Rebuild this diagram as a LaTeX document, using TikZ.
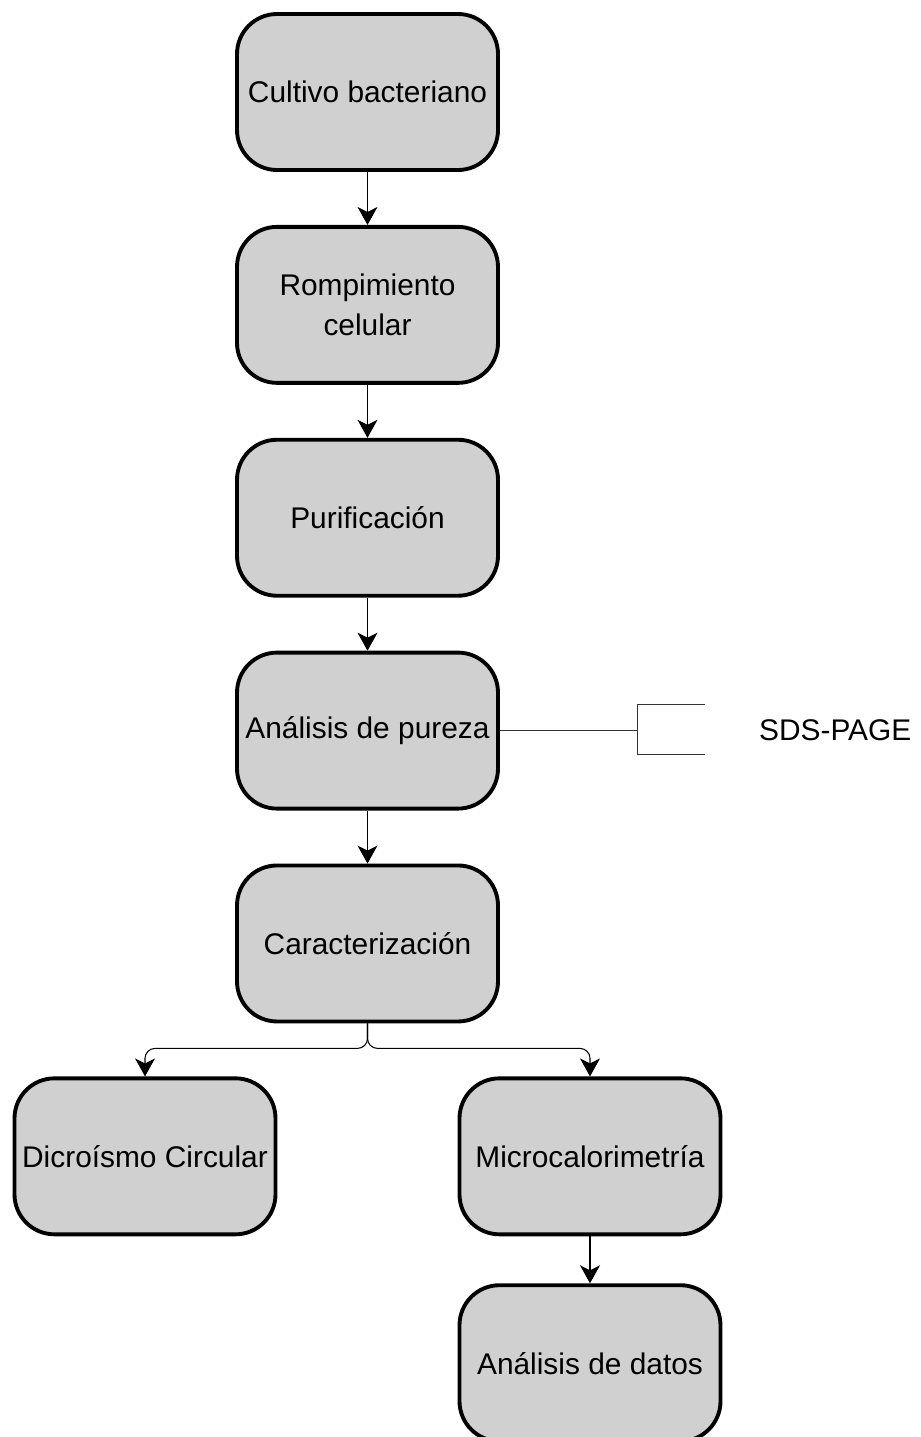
\documentclass[tikz,border=0pt]{standalone}
\usepackage{fontspec}
\setmainfont{Liberation Sans}
\usepackage{tikz}
\usetikzlibrary{arrows.meta, positioning}

\definecolor{boxgray}{RGB}{208,208,208}

\begin{document}
\begin{tikzpicture}[
  node distance=1.06cm and 0.8cm,
  box/.style={draw, fill=boxgray, line width=2.2pt, rounded corners=0.8cm,
    minimum width=5.22cm, minimum height=3.12cm, align=center,
    font=\fontsize{17}{22.7}\selectfont},
  arrow/.style={-{Stealth[length=0.36cm, width=0.4cm, inset=0.1cm]}, line width=0.6pt}
]
\useasboundingbox (0,0) rectangle (18.42,-28.74);

% Nodes
\node[box] (cultivo) at (7.35,-1.84) {Cultivo bacteriano};
\node[box, below=of cultivo] (rompe) {Rompimiento\\celular};
\node[box, below=of rompe] (purif) {Purificación};
\node[box, below=of purif] (pureza) {Análisis de pureza};
\node[box, below=of pureza] (caract) {Caracterización};
\node[box, below=of caract, xshift=-4.45cm] (dicro) {Dicroísmo Circular};
\node[box, below=of caract, xshift=4.45cm] (micro) {Microcalorimetría};
\node[box, below=0.94cm of micro] (datos) {Análisis de datos};
\coordinate[right=2.74cm of pureza.east] (brk);
\node[font=\fontsize{17}{20}\selectfont, right=2.32cm of brk] (sds) {SDS-PAGE};

% Pointers
\draw[arrow] (cultivo) -- (rompe);
\draw[arrow] (rompe) -- (purif);
\draw[arrow] (purif) -- (pureza);
\draw[arrow] (pureza) -- (caract);
\draw[arrow, rounded corners=0.2cm] (caract.south) -- ++(0,-0.5) -| (dicro.north);
\draw[arrow, rounded corners=0.2cm] (caract.south) -- ++(0,-0.5) -| (micro.north);
\draw[arrow] (micro) -- (datos);

% Bracket
\draw[line width=0.5pt, black!80] (pureza.east) -- (brk);
\draw[line width=0.5pt, black!80] ([xshift=1.36cm, yshift=0.52cm]brk) -- ([yshift=0.52cm]brk)
  -- ([yshift=-0.48cm]brk) -- ([xshift=1.36cm, yshift=-0.48cm]brk);
\end{tikzpicture}
\end{document}
